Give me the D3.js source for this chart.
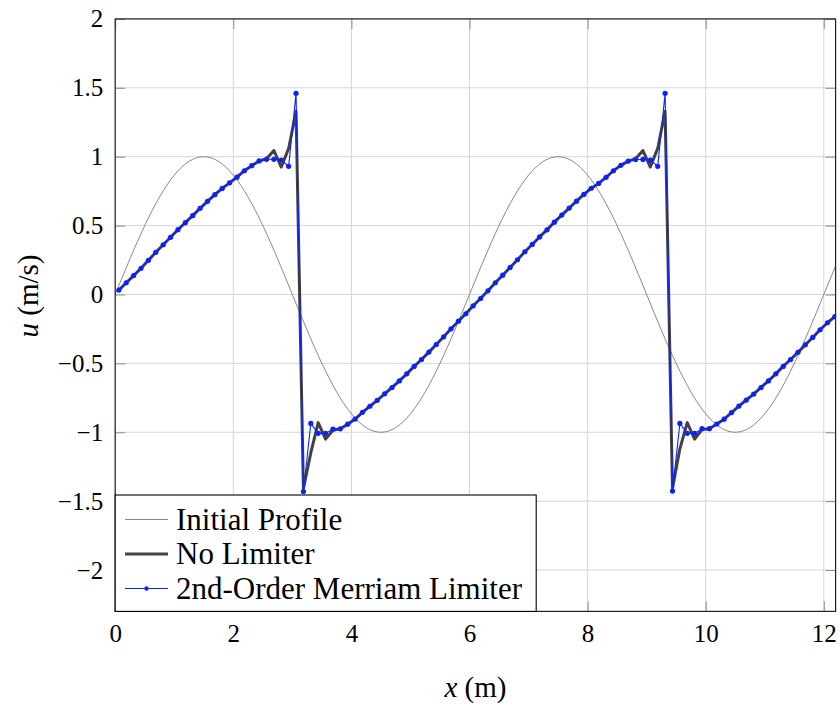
<!DOCTYPE html>
<html><head><meta charset="utf-8">
<script src="https://cdn.jsdelivr.net/npm/d3@7"></script>
<style>body{margin:0;background:#fff}</style>
</head><body>
<svg id="c" width="840" height="708"></svg>
<script>
// ---- data ----
const xCells = [
 0.0625,0.1875,0.3125,0.4375,0.5625,0.6875,0.8125,0.9375,
 1.0625,1.1875,1.3125,1.4375,1.5625,1.6875,1.8125,1.9375,
 2.0625,2.1875,2.3125,2.4375,2.5625,2.6875,2.8125,2.9375,
 3.0625,3.1875,3.3125,3.4375,3.5625,3.6875,3.8125,3.9375,
 4.0625,4.1875,4.3125,4.4375,4.5625,4.6875,4.8125,4.9375,
 5.0625,5.1875,5.3125,5.4375,5.5625,5.6875,5.8125,5.9375,
 6.0625,6.1875,6.3125,6.4375,6.5625,6.6875,6.8125,6.9375,
 7.0625,7.1875,7.3125,7.4375,7.5625,7.6875,7.8125,7.9375,
 8.0625,8.1875,8.3125,8.4375,8.5625,8.6875,8.8125,8.9375,
 9.0625,9.1875,9.3125,9.4375,9.5625,9.6875,9.8125,9.9375,
 10.0625,10.1875,10.3125,10.4375,10.5625,10.6875,10.8125,10.9375,
 11.0625,11.1875,11.3125,11.4375,11.5625,11.6875,11.8125,11.9375,
 12.0625,12.1875,12.3125];
const merriam = [
 0.032,0.085,0.137,0.190,0.248,0.306,0.361,0.415,
 0.470,0.521,0.572,0.625,0.676,0.724,0.770,0.810,
 0.851,0.898,0.935,0.969,0.981,0.981,0.976,0.930,
 1.460,-1.430,-0.936,-1.008,-1.008,-0.977,-0.975,-0.941,
 -0.904,-0.855,-0.811,-0.768,-0.721,-0.675,-0.627,-0.576,
 -0.522,-0.472,-0.418,-0.363,-0.307,-0.249,-0.194,-0.140,
 -0.082,-0.029,0.027,0.085,0.140,0.196,0.252,0.310,
 0.363,0.418,0.469,0.525,0.576,0.627,0.677,0.726,
 0.771,0.806,0.850,0.898,0.937,0.968,0.980,0.980,
 0.975,0.930,1.460,-1.427,-0.936,-1.008,-1.008,-0.974,
 -0.974,-0.940,-0.905,-0.857,-0.810,-0.766,-0.723,-0.675,
 -0.627,-0.576,-0.522,-0.472,-0.420,-0.365,-0.312,-0.256,
 -0.205,-0.160,-0.105];
const noLimiter = [
 0.032,0.085,0.137,0.190,0.248,0.306,0.361,0.415,
 0.470,0.521,0.572,0.625,0.676,0.724,0.770,0.810,
 0.851,0.898,0.935,0.969,0.985,1.045,0.925,1.060,
 1.330,-1.410,-1.150,-0.930,-1.050,-0.985,-0.975,-0.941,
 -0.904,-0.855,-0.811,-0.768,-0.721,-0.675,-0.627,-0.576,
 -0.522,-0.472,-0.418,-0.363,-0.307,-0.249,-0.194,-0.140,
 -0.082,-0.029,0.027,0.085,0.140,0.196,0.252,0.310,
 0.363,0.418,0.469,0.525,0.576,0.627,0.677,0.726,
 0.771,0.806,0.850,0.898,0.937,0.968,0.985,1.045,
 0.925,1.060,1.330,-1.410,-1.120,-0.930,-1.050,-0.980,
 -0.974,-0.940,-0.905,-0.857,-0.810,-0.766,-0.723,-0.675,
 -0.627,-0.576,-0.522,-0.472,-0.420,-0.365,-0.312,-0.256,
 -0.205,-0.160,-0.105];
const xInit = [
 0,0.25,0.5,0.75,1,1.25,1.5,1.75,2,2.25,2.5,2.75,
 3,3.25,3.5,3.75,4,4.25,4.5,4.75,5,5.25,5.5,5.75,
 6,6.25,6.5,6.75,7,7.25,7.5,7.75,8,8.25,8.5,8.75,
 9,9.25,9.5,9.75,10,10.25,10.5,10.75,11,11.25,11.5,11.75,
 12,12.25];
const uInit = [
 0,0.259,0.5,0.707,0.866,0.966,1,0.966,0.866,0.707,0.5,0.259,
 0,-0.259,-0.5,-0.707,-0.866,-0.966,-1,-0.966,-0.866,-0.707,-0.5,-0.259,
 0,0.259,0.5,0.707,0.866,0.966,1,0.966,0.866,0.707,0.5,0.259,
 0,-0.259,-0.5,-0.707,-0.866,-0.966,-1,-0.966,-0.866,-0.707,-0.5,-0.259,
 0,0.259];
const xTicks = [0,2,4,6,8,10,12];
const yTicks = [-2,-1.5,-1,-0.5,0,0.5,1,1.5,2];
const seriesNames = ["Initial Profile","No Limiter","2nd-Order Merriam Limiter"];

// ---- drawing ----
const svg = d3.select("#c");
const L = 115.2, R = 835.6, T = 18.9, B = 611.4;
const x = d3.scaleLinear().domain([0, 12.2]).range([L, R]);
const y = d3.scaleLinear().domain([-2.3, 2]).range([B, T]);
const serif = "'Liberation Serif', 'Times New Roman', serif";
const fmt = d3.format("~g");

svg.append("defs").append("clipPath").attr("id","clip")
  .append("rect").attr("x",L).attr("y",T).attr("width",R-L).attr("height",B-T);

// grid
const g = svg.append("g");
g.selectAll("line.gx").data(xTicks).join("line").attr("class","gx")
  .attr("x1",d=>x(d)).attr("x2",d=>x(d)).attr("y1",T).attr("y2",B)
  .attr("stroke","#d6d6d6").attr("stroke-width",1);
g.selectAll("line.gy").data(yTicks).join("line").attr("class","gy")
  .attr("x1",L).attr("x2",R).attr("y1",d=>y(d)).attr("y2",d=>y(d))
  .attr("stroke","#d6d6d6").attr("stroke-width",1);

// curves
const plot = svg.append("g").attr("clip-path","url(#clip)");
const initData = xInit.map((v,i)=>[v,uInit[i]]);
const noLimData = xCells.map((v,i)=>[v,noLimiter[i]]);
const merData = xCells.map((v,i)=>[v,merriam[i]]);
const line = d3.line().x(d=>x(d[0])).y(d=>y(d[1]));
plot.append("path").datum(initData)
  .attr("d", d3.line().x(d=>x(d[0])).y(d=>y(d[1])).curve(d3.curveNatural))
  .attr("fill","none").attr("stroke","#7c7c7c").attr("stroke-width",0.9);
plot.append("path").datum(noLimData).attr("d",line)
  .attr("fill","none").attr("stroke","#424242").attr("stroke-width",3).attr("stroke-linejoin","round");
plot.append("path").datum(merData).attr("d",line)
  .attr("fill","none").attr("stroke","#0a22ff").attr("stroke-width",1.1);
plot.selectAll("circle.m").data(merData).join("circle").attr("class","m")
  .attr("cx",d=>x(d[0])).attr("cy",d=>y(d[1])).attr("r",2.6).attr("fill","#0a22ff");

// axes (inward ticks)
function styleAxis(sel){
  sel.attr("font-family", null).attr("font-size", null);
  sel.select(".domain").remove();
  sel.selectAll(".tick line").attr("stroke","#8a8a8a").attr("stroke-width",1);
  sel.selectAll("text").style("font-family",serif).style("font-size","25px").attr("fill","#000");
}
svg.append("g").attr("transform",`translate(0,${B})`)
  .call(d3.axisBottom(x).tickValues(xTicks).tickFormat(fmt).tickSizeInner(-10).tickSizeOuter(0).tickPadding(13))
  .call(styleAxis);
svg.append("g").attr("transform",`translate(0,${T})`)
  .call(d3.axisTop(x).tickValues(xTicks).tickFormat("").tickSizeInner(-10).tickSizeOuter(0))
  .call(styleAxis);
svg.append("g").attr("transform",`translate(${L},0)`)
  .call(d3.axisLeft(y).tickValues(yTicks).tickFormat(fmt).tickSizeInner(-10).tickSizeOuter(0).tickPadding(12))
  .call(styleAxis);
svg.append("g").attr("transform",`translate(${R},0)`)
  .call(d3.axisRight(y).tickValues(yTicks).tickFormat("").tickSizeInner(-10).tickSizeOuter(0))
  .call(styleAxis);

// frame
svg.append("rect").attr("x",L).attr("y",T).attr("width",R-L).attr("height",B-T)
  .attr("fill","none").attr("stroke","#222").attr("stroke-width",1.2);

// axis labels
const xl = svg.append("text").attr("x",(L+R)/2).attr("y",697)
  .attr("text-anchor","middle").style("font-family",serif).style("font-size","29px");
xl.append("tspan").attr("font-style","italic").text("x");
xl.append("tspan").text(" (m)");
const yl = svg.append("text").attr("transform","translate(38,296) rotate(-90)")
  .attr("text-anchor","middle").style("font-family",serif).style("font-size","29px");
yl.append("tspan").attr("font-style","italic").text("u");
yl.append("tspan").text(" (m/s)");

// legend
const lg = svg.append("g");
lg.append("rect").attr("x",L).attr("y",495).attr("width",421).attr("height",B-495)
  .attr("fill","#fff").attr("stroke","#000").attr("stroke-width",1.1);
const rowY = [519.5, 554, 588.5];
const lStyles = [
  {c:"#7c7c7c", w:0.9, dot:false},
  {c:"#424242", w:3, dot:false},
  {c:"#0a22ff", w:1.1, dot:true}];
seriesNames.forEach((name,i)=>{
  const s = lStyles[i];
  lg.append("line").attr("x1",125).attr("x2",168).attr("y1",rowY[i]).attr("y2",rowY[i])
    .attr("stroke",s.c).attr("stroke-width",s.w);
  if (s.dot) lg.append("circle").attr("cx",146.5).attr("cy",rowY[i]).attr("r",2.2).attr("fill",s.c);
  lg.append("text").attr("x",176).attr("y",rowY[i]).attr("dy","0.33em")
    .style("font-family",serif).style("font-size","31px").text(name);
});
</script>
</body></html>
